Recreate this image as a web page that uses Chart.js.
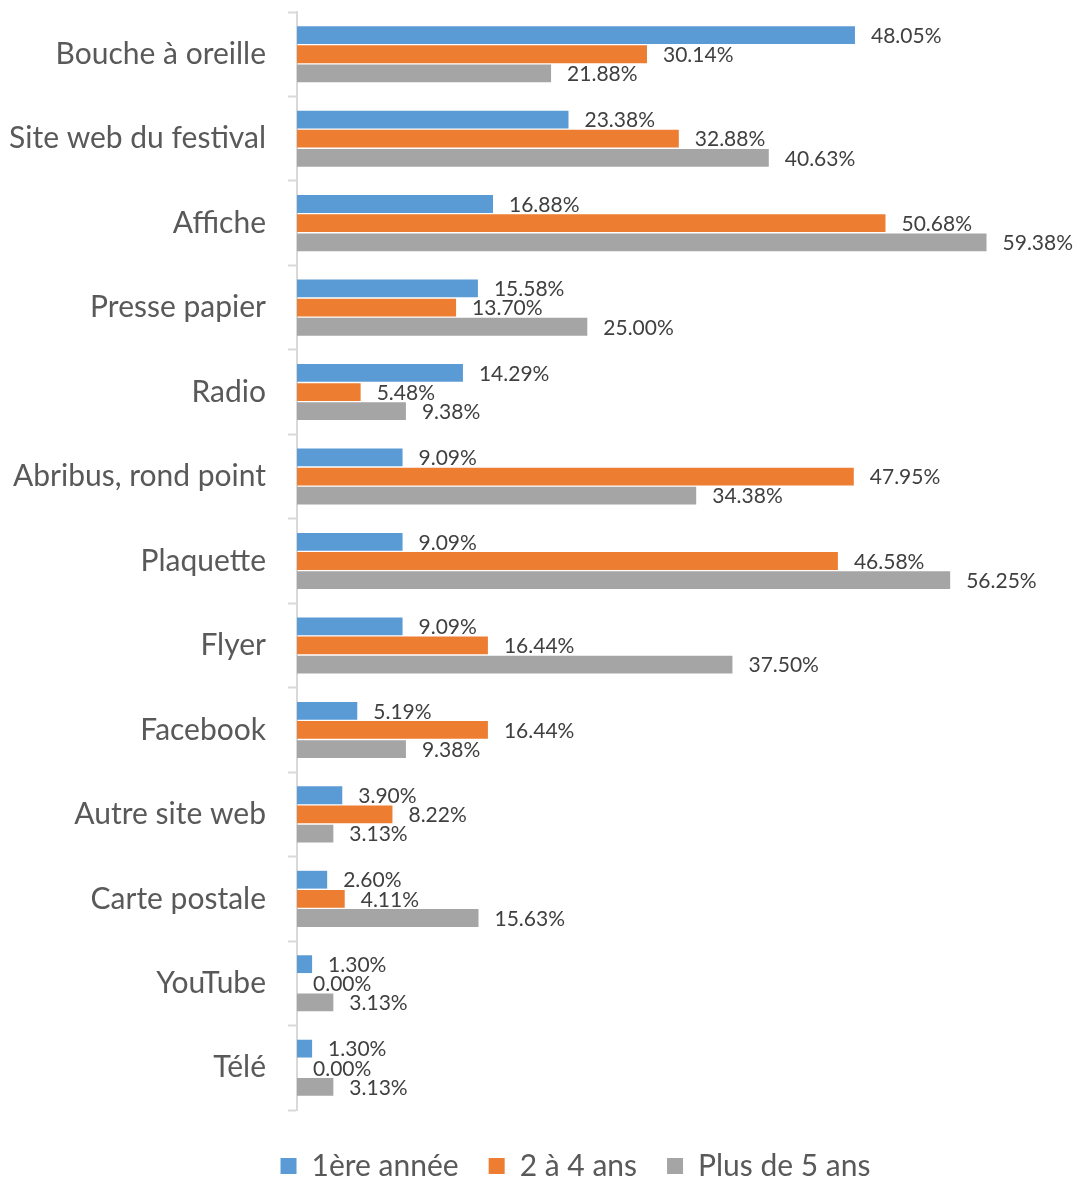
<!DOCTYPE html>
<html>
<head>
<meta charset="utf-8">
<script src="https://cdn.jsdelivr.net/npm/chart.js@4/dist/chart.umd.min.js"></script>
<style>
  html, body { margin: 0; padding: 0; background: #fff; }
  #wrap { width: 1075px; height: 1177px; position: relative; }
</style>
</head>
<body>
<div id="wrap"><canvas id="chart"></canvas></div>
<script>
const categories = [
  "Bouche à oreille", "Site web du festival", "Affiche", "Presse papier", "Radio",
  "Abribus, rond point", "Plaquette", "Flyer", "Facebook", "Autre site web",
  "Carte postale", "YouTube", "Télé",
];
const seriesNames = ["1ère année", "2 à 4 ans", "Plus de 5 ans"];
const firstYear = [48.05, 23.38, 16.88, 15.58, 14.29, 9.09, 9.09, 9.09, 5.19, 3.90, 2.60, 1.30, 1.30];
const twoToFour = [30.14, 32.88, 50.68, 13.70, 5.48, 47.95, 46.58, 16.44, 16.44, 8.22, 4.11, 0.00, 0.00];
const fivePlus = [21.88, 40.63, 59.38, 25.00, 9.38, 34.38, 56.25, 37.50, 9.38, 3.13, 15.63, 3.13, 3.13];
const colors = ["#5B9BD5", "#ED7D31", "#A5A5A5"];

// value labels at the end of each bar
const barLabels = {
  id: "barLabels",
  afterDatasetsDraw(chart) {
    const ctx = chart.ctx;
    ctx.save();
    ctx.font = "21px Lato";
    ctx.fillStyle = "#404040";
    ctx.textAlign = "left";
    ctx.textBaseline = "middle";
    chart.data.datasets.forEach((ds, i) => {
      chart.getDatasetMeta(i).data.forEach((bar, j) => {
        ctx.fillText(ds.data[j].toFixed(2) + "%", bar.x + 16, bar.y + 1);
      });
    });
    ctx.restore();
  },
};

// nudge the legend to where the original sits
const legendShift = {
  id: "legendShift",
  afterLayout(chart) {
    const lg = chart.legend;
    lg.left += 38;
    lg.right += 38;
    lg.top += 11;
    lg.bottom += 11;
  },
};

new Chart(document.getElementById("chart").getContext("2d"), {
  type: "bar",
  data: {
    labels: categories,
    datasets: [firstYear, twoToFour, fivePlus].map((d, i) => ({
      label: seriesNames[i],
      data: d,
      backgroundColor: colors[i],
      borderWidth: 0,
      categoryPercentage: 0.68,
      barPercentage: 0.93,
    })),
  },
  options: {
    indexAxis: "y",
    responsive: true,
    maintainAspectRatio: false,
    animation: false,
    layout: { padding: { top: 12, right: 0, bottom: -3, left: 0 } },
    plugins: {
      legend: {
        position: "bottom",
        labels: {
          font: { family: "Lato", size: 30 },
          color: "#595959",
          boxWidth: 16,
          boxHeight: 16,
          padding: 30,
        },
      },
      tooltip: { enabled: false },
    },
    scales: {
      x: { display: false, min: 0, max: 67 },
      y: {
        afterFit: (scale) => {
          scale.width = 297;
          scale.paddingTop = 0;
          scale.paddingBottom = 0;
        },
        border: { color: "#d9d9d9", width: 2 },
        grid: {
          drawOnChartArea: false,
          tickLength: 9,
          tickColor: "#d9d9d9",
          tickWidth: 2,
          offset: true,
        },
        ticks: {
          font: { family: "Lato", size: 30 },
          color: "#595959",
          padding: 22,
        },
      },
    },
  },
  plugins: [barLabels, legendShift],
});
</script>
</body>
</html>
